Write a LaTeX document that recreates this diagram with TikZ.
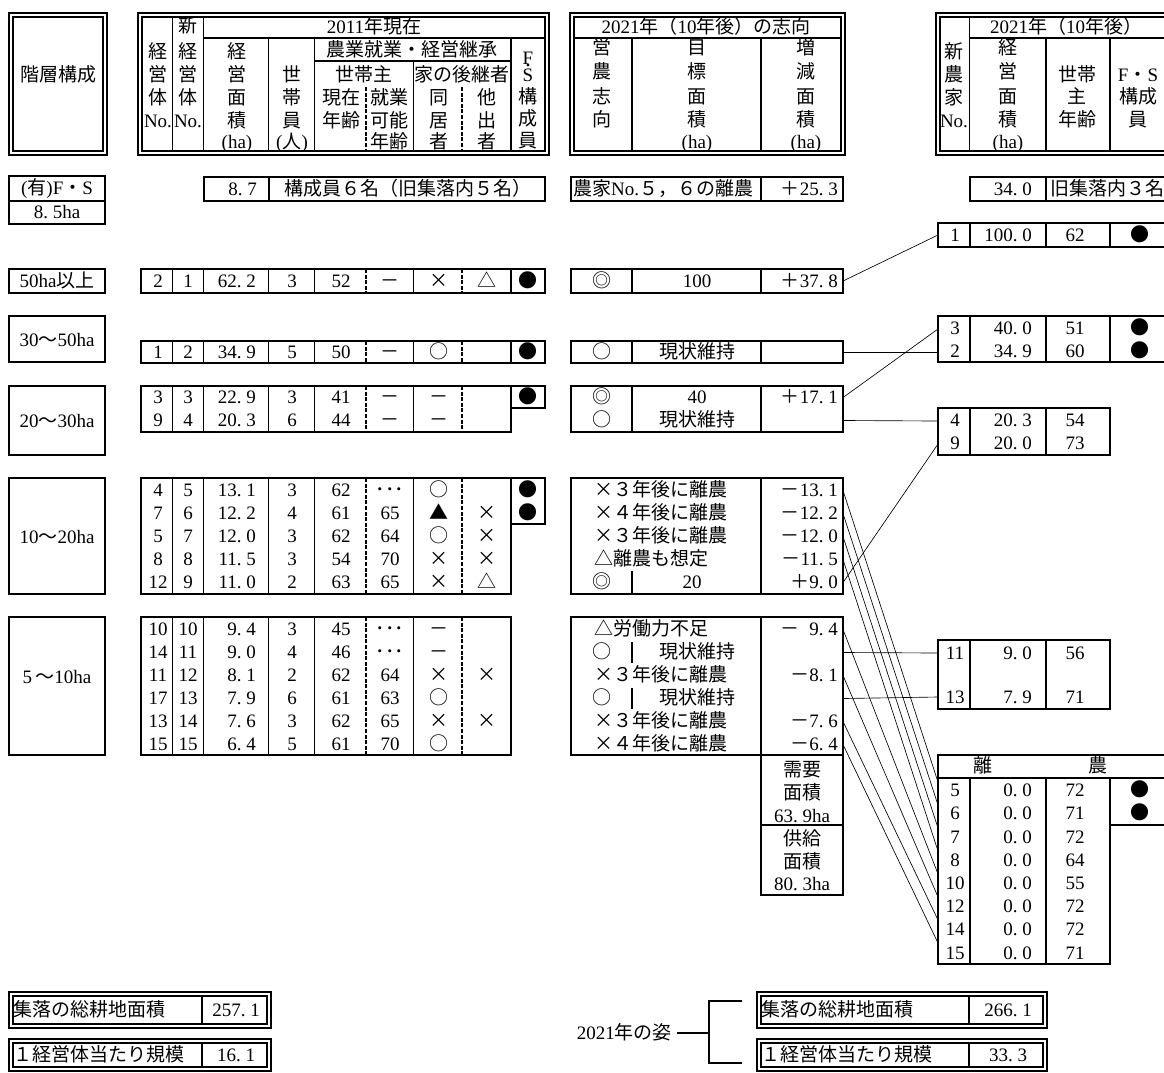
\documentclass[tikz,border=0pt]{standalone}
\usepackage{fontspec}
\setmainfont{Liberation Serif}
\newfontfamily\jpfont{Noto Sans CJK JP}
\newcommand\JJ[1]{{\jpfont #1}}
\newcommand\mydt{.\kern.25em}
\newcommand\dbox[4]{\draw[thk] (#1,#2) rectangle (#3,#4); \draw[thn] (#1+4,#2+4) rectangle (#3-4,#4-4);}
\newcommand\mainblk[3]{%
  \draw[thk] (141,#1) rectangle (#3,#2);
  \draw[mid] \foreach \xx in {172.5,203.5,268.5,314.5,413.5,511} {(\xx,#1)--(\xx,#2)};
  \draw[dsh] (366,#1)--(366,#2) (462,#1)--(462,#2);}
\begin{document}
\begin{tikzpicture}[x=1pt,y=-1pt,
 txt/.style={inner sep=0pt,font=\fontsize{19}{21}\selectfont,text height=14.5pt,text depth=2pt},
 thk/.style={line width=2.2pt},
 mid/.style={line width=1.5pt},
 thn/.style={line width=1.1pt},
 dsh/.style={line width=1.6pt,dash pattern=on 4pt off 1.6pt},
 con/.style={line width=0.65pt},
 brk/.style={line width=2.7pt}]
\useasboundingbox (0,0) rectangle (1164,1072);
\fill[white] (0,0) rectangle (1164,1072);
\clip (0,0) rectangle (1164,1072);

% ---------- headers ----------
\dbox{9}{13}{107}{155}
\node[txt] (lab0) at (58,75) {\JJ{階層構成}};

\dbox{138}{13}{549}{155}
\draw[thn] (172.5,17)--(172.5,151) (203.5,17)--(203.5,151) (203.5,38)--(545,38)
  (268.5,38)--(268.5,151) (314.5,38)--(314.5,151) (314.5,61)--(511,61)
  (413.5,61)--(413.5,151) (511,38)--(511,151);
\draw[dsh] (366,87)--(366,151) (462,87)--(462,151);
\foreach \hX/\hY/\hT [count=\i] in {158/52/\JJ{経},158/75/\JJ{営},158/98/\JJ{体},158/121/No.,
  188/26/\JJ{新},188/52/\JJ{経},188/75/\JJ{営},188/98/\JJ{体},188/121/No.,
  237/52/\JJ{経},237/75/\JJ{営},237/98/\JJ{面},237/121/\JJ{積},237/142/(ha),
  292/75/\JJ{世},292/98/\JJ{帯},292/121/\JJ{員},292/142/(\JJ{人}),
  374/27/2011\JJ{年現在},412/50/\JJ{農業就業・経営継承},
  364/75/\JJ{世帯主},462/75/\JJ{家の後継者},
  341/98/\JJ{現在},341/121/\JJ{年齢},
  389/98/\JJ{就業},389/121/\JJ{可能},389/142/\JJ{年齢},
  439/98/\JJ{同},439/121/\JJ{居},439/142/\JJ{者},
  487/98/\JJ{他},487/121/\JJ{出},487/142/\JJ{者},
  528/58/F,528/75/S,528/97/\JJ{構},528/119/\JJ{成},528/141/\JJ{員}}
  {\node[txt] (hm\i) at (\hX,\hY) {\hT};}
\fill (528,65) circle (1.6);

\dbox{570}{13}{845}{155}
\draw[thn] (574,38)--(841,38) (632,38)--(632,151) (761,38)--(761,151);
\foreach \hX/\hY/\hT [count=\i] in {706/27/2021\JJ{年（}10\JJ{年後）の志向},
  602/48/\JJ{営},602/72/\JJ{農},602/97/\JJ{志},602/120/\JJ{向},
  697/48/\JJ{目},697/72/\JJ{標},697/97/\JJ{面},697/120/\JJ{積},697/142/(ha),
  806/48/\JJ{増},806/72/\JJ{減},806/97/\JJ{面},806/120/\JJ{積},806/142/(ha)}
  {\node[txt] (hc\i) at (\hX,\hY) {\hT};}

\dbox{936}{13}{1190}{155}
\draw[thn] (969.5,17)--(969.5,151) (969.5,38)--(1186,38) (1046,38)--(1046,151) (1110,38)--(1110,151);
\foreach \hX/\hY/\hT [count=\i] in {1066/27/2021\JJ{年（}10\JJ{年後）},
  954/52/\JJ{新},954/75/\JJ{農},954/98/\JJ{家},954/121/No.,
  1008/48/\JJ{経},1008/72/\JJ{営},1008/97/\JJ{面},1008/120/\JJ{積},1008/142/(ha),
  1077/75/\JJ{世帯},1077/97/\JJ{主},1077/120/\JJ{年齢},
  1138/75/F\JJ{・}S,1138/97/\JJ{構成},1138/120/\JJ{員}}
  {\node[txt] (hr\i) at (\hX,\hY) {\hT};}

% ---------- left labels ----------
\draw[thk] (9,176) rectangle (105,224) (9,201)--(105,201);
\node[txt] (lab1) at (57,188.5) {(\JJ{有})F\JJ{・}S};
\node[txt] (lab2) at (57,212.5) {8\mydt5ha};
\draw[thk] (9,269) rectangle (105,293);
\node[txt] (lab3) at (57,281) {50ha\JJ{以上}};
\draw[thk] (9,316) rectangle (105,362);
\node[txt] (lab4) at (57,340) {30\JJ{〜}50ha};
\draw[thk] (9,386) rectangle (105,455);
\node[txt] (lab5) at (57,421) {20\JJ{〜}30ha};
\draw[thk] (9,478) rectangle (105,594);
\node[txt] (lab6) at (57,537) {10\JJ{〜}20ha};
\draw[thk] (9,617) rectangle (105,755);
\node[txt] (lab7) at (57,677) {5\,\JJ{〜}10ha};

% ---------- 2011 table ----------
\draw[thk] (204,177) rectangle (545,201); \draw[mid] (269,177)--(269,201);
\node[txt,anchor=east] (fs1) at (257,189) {8\mydt7};
\node[txt] (fs2) at (408,189) {\JJ{構成員６名（旧集落内５名）}};

\mainblk{269}{293}{545}
\mainblk{341}{363}{545}
\mainblk{386}{432}{511}
\draw[thk] (511,386) rectangle (545,408);
\mainblk{478}{594}{511}
\draw[thk] (511,478) rectangle (545,524);
\mainblk{617}{755}{511}

\foreach \rr/\ry/\va/\vb/\vc/\vd/\ve/\vf/\vg/\vh in {
 1/281/2/1/62\mydt2/3/52/\JJ{－}/\JJ{×}/\JJ{△},
 2/352/1/2/34\mydt9/5/50/\JJ{－}/\JJ{○}/{},
 3/397.5/3/3/22\mydt9/3/41/\JJ{－}/\JJ{－}/{},
 4/420.5/9/4/20\mydt3/6/44/\JJ{－}/\JJ{－}/{},
 5/490.5/4/5/13\mydt1/3/62/\JJ{･･･}/\JJ{○}/{},
 6/513.5/7/6/12\mydt2/4/61/65/\JJ{▲}/\JJ{×},
 7/536.5/5/7/12\mydt0/3/62/64/\JJ{○}/\JJ{×},
 8/559.5/8/8/11\mydt5/3/54/70/\JJ{×}/\JJ{×},
 9/582.5/12/9/11\mydt0/2/63/65/\JJ{×}/\JJ{△},
 10/629.5/10/10/9\mydt4/3/45/\JJ{･･･}/\JJ{－}/{},
 11/652.5/14/11/9\mydt0/4/46/\JJ{･･･}/\JJ{－}/{},
 12/675.5/11/12/8\mydt1/2/62/64/\JJ{×}/\JJ{×},
 13/698.5/17/13/7\mydt9/6/61/63/\JJ{○}/{},
 14/721.5/13/14/7\mydt6/3/62/65/\JJ{×}/\JJ{×},
 15/744.5/15/15/6\mydt4/5/61/70/\JJ{○}/{}}
{\node[txt] (na\rr) at (158,\ry) {\va};
 \node[txt] (nb\rr) at (188,\ry) {\vb};
 \node[txt,anchor=east] (nc\rr) at (256,\ry) {\vc};
 \node[txt] (nd\rr) at (292,\ry) {\vd};
 \node[txt] (ne\rr) at (341,\ry) {\ve};
 \node[txt] (nf\rr) at (390,\ry) {\vf};
 \node[txt] (ng\rr) at (439,\ry) {\vg};
 \node[txt] (nh\rr) at (487,\ry) {\vh};}
\foreach \yy [count=\i] in {281,352,397.5,490.5,513.5}
 {\node[txt] (fsd\i) at (528,\yy) {\JJ{●}};}

% ---------- 2021 intention ----------
\draw[thk] (571,177) rectangle (843,201); \draw[mid] (761,177)--(761,201);
\node[txt,anchor=west] (mi0) at (573,189) {\JJ{農家}No.\JJ{５，６の離農}};
\node[txt,anchor=east] (mv0) at (838,189) {\JJ{＋}25\mydt3};

\draw[thk] (571,269) rectangle (843,293); \draw[mid] (632,269)--(632,293) (761,269)--(761,293);
\draw[thk] (571,341) rectangle (843,363); \draw[mid] (632,341)--(632,363) (761,341)--(761,363);
\draw[thk] (571,386) rectangle (843,432); \draw[mid] (632,386)--(632,432) (761,386)--(761,432);
\draw[thk] (571,478) rectangle (843,594); \draw[mid] (761,478)--(761,594) (632,571)--(632,594);
\draw[thk] (571,617) rectangle (843,755); \draw[mid] (761,617)--(761,755) (632,642)--(632,663) (632,688)--(632,709);
\draw[thk] (761,755) rectangle (843,895) (761,825)--(843,825);

\foreach \mx/\my/\mT [count=\i] in {602/281/\JJ{◎},697/281/100,602/352/\JJ{○},697/352/\JJ{現状維持},
  602/397.5/\JJ{◎},697/397.5/40,602/420.5/\JJ{○},697/420.5/\JJ{現状維持},
  602/582.5/\JJ{◎},692/582.5/20,
  602/652.5/\JJ{○},697/652.5/\JJ{現状維持},602/698.5/\JJ{○},697/698.5/\JJ{現状維持},
  802/770/\JJ{需要},802/793/\JJ{面積},802/816/63\mydt9ha,
  802/839/\JJ{供給},802/862/\JJ{面積},802/884/80\mydt3ha}
  {\node[txt] (mc\i) at (\mx,\my) {\mT};}
\foreach \my/\mT [count=\i] in {490.5/\JJ{×３年後に離農},513.5/\JJ{×４年後に離農},536.5/\JJ{×３年後に離農},
  559.5/\JJ{△離農も想定},629.5/\JJ{△労働力不足},675.5/\JJ{×３年後に離農},721.5/\JJ{×３年後に離農},744.5/\JJ{×４年後に離農}}
  {\node[txt,anchor=west] (ml\i) at (594,\my) {\mT};}
\foreach \my/\mT [count=\i] in {281/\JJ{＋}37\mydt8,397.5/\JJ{＋}17\mydt1,490.5/\JJ{－}13\mydt1,513.5/\JJ{－}12\mydt2,
  536.5/\JJ{－}12\mydt0,559.5/\JJ{－}11\mydt5,582.5/\JJ{＋}9\mydt0,629.5/\JJ{－}\ \ 9\mydt4,
  675.5/\JJ{－}8\mydt1,721.5/\JJ{－}7\mydt6,744.5/\JJ{－}6\mydt4}
  {\node[txt,anchor=east] (mr\i) at (838,\my) {\mT};}

% ---------- 2021 result ----------
\draw[thk] (970,177) rectangle (1190,201); \draw[mid] (1046,177)--(1046,201);
\node[txt,anchor=east] (r0a) at (1032,189) {34\mydt0};
\node[txt,anchor=west] (r0b) at (1050,189) {\JJ{旧集落内３名}};

\draw[thk] (938,223) rectangle (1190,247);
\draw[mid] (970,223)--(970,247) (1046,223)--(1046,247) (1110,223)--(1110,247);
\draw[thk] (938,316) rectangle (1190,362);
\draw[mid] (970,316)--(970,362) (1046,316)--(1046,362) (1110,316)--(1110,362);
\draw[thk] (938,408) rectangle (1110,455);
\draw[mid] (970,408)--(970,455) (1046,408)--(1046,455);
\draw[thk] (938,640) rectangle (1110,709);
\draw[mid] (970,640)--(970,709) (1046,640)--(1046,709);
\foreach \rr/\ry/\va/\vb/\vc/\vd in {1/235/1/100\mydt0/62/\JJ{●},
  2/328.5/3/40\mydt0/51/\JJ{●},3/351.5/2/34\mydt9/60/\JJ{●},
  4/420/4/20\mydt3/54/{},5/443/9/20\mydt0/73/{},
  6/653/11/9\mydt0/56/{},7/697/13/7\mydt9/71/{}}
{\node[txt] (ra\rr) at (955,\ry) {\va};
 \node[txt,anchor=east] (rb\rr) at (1032,\ry) {\vb};
 \node[txt] (rc\rr) at (1075,\ry) {\vc};
 \node[txt] (rd\rr) at (1140,\ry) {\vd};}

\draw[thk] (1190,755)--(938,755)--(938,964)--(1110,964)--(1110,825)--(1190,825);
\draw[mid] (938,778)--(1190,778) (970,778)--(970,964) (1046,778)--(1046,964) (1110,778)--(1110,825);
\node[txt] (rl1) at (983,766.5) {\JJ{離}};
\node[txt] (rl2) at (1098,766.5) {\JJ{農}};
\foreach \i/\nn/\ag in {0/5/72,1/6/71,2/7/72,3/8/64,4/10/55,5/12/72,6/14/72,7/15/71}
{\pgfmathsetmacro\yy{790.5+23.2*\i}
 \node[txt] (la\i) at (955,\yy) {\nn};
 \node[txt,anchor=east] (lb\i) at (1032,\yy) {0\mydt0};
 \node[txt] (lc\i) at (1075,\yy) {\ag};}
\node[txt] (ld1) at (1140,790.5) {\JJ{●}};
\node[txt] (ld2) at (1140,813.7) {\JJ{●}};

% ---------- connectors ----------
\foreach \i/\sy/\ey in {1/281/235,2/352/352,3/397.5/329,4/420.5/421,5/582.5/444,6/652.5/653,7/698.5/697,
  8/490.5/782,9/513.5/805,10/536.5/828,11/559.5/851,12/629.5/874,13/675.5/897,14/721.5/920,15/744.5/943}
{\coordinate (cs\i) at (843,\sy); \coordinate (ce\i) at (938,\ey); \draw[con] (cs\i)--(ce\i);}

% ---------- bottom ----------
\dbox{9}{992}{271}{1028}
\draw[thn] (202,996)--(202,1024);
\node[txt,anchor=west] (b1) at (13,1010) {\JJ{集落の総耕地面積}};
\node[txt] (b2) at (236,1010) {257\mydt1};
\dbox{9}{1039}{271}{1071}
\draw[thn] (202,1043)--(202,1067);
\node[txt,anchor=west] (b3) at (13,1055) {\JJ{１経営体当たり規模}};
\node[txt] (b4) at (236,1055) {16\mydt1};

\dbox{757}{992}{1047}{1028}
\draw[thn] (969,996)--(969,1024);
\node[txt,anchor=west] (b5) at (761,1010) {\JJ{集落の総耕地面積}};
\node[txt] (b6) at (1008,1010) {266\mydt1};
\dbox{757}{1039}{1047}{1071}
\draw[thn] (969,1043)--(969,1067);
\node[txt,anchor=west] (b7) at (761,1055) {\JJ{１経営体当たり規模}};
\node[txt] (b8) at (1008,1055) {33\mydt3};

\node[txt,anchor=east] (y21) at (672,1033) {2021\JJ{年の姿}};
\coordinate (bk) at (709,1033);
\coordinate (bt) at (742,1001);
\coordinate (bb) at (742,1063);
\draw[brk,shorten <=5pt] (y21) -- (bk);
\draw[brk] (bt) -- (709,1001) -- (709,1063) -- (bb);
\end{tikzpicture}
\end{document}
